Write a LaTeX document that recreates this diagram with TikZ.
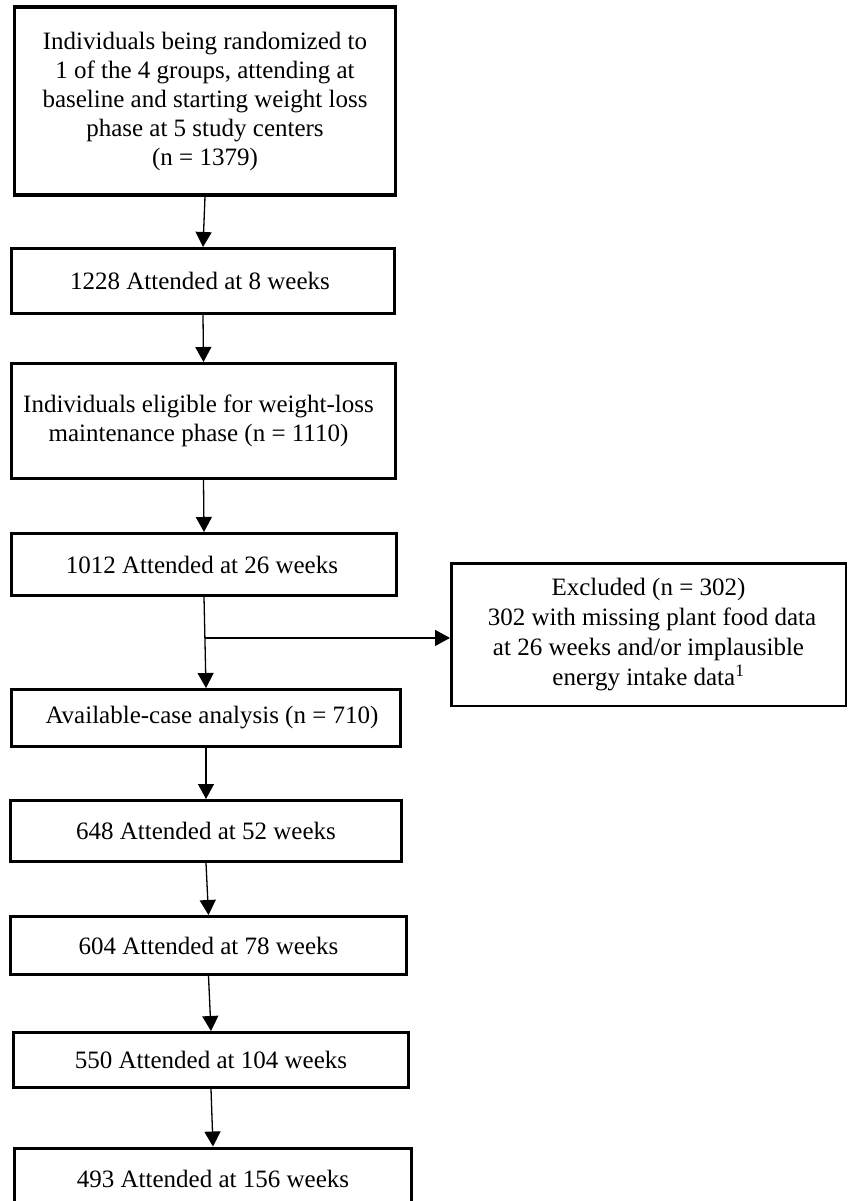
\documentclass[tikz,border=0pt]{standalone}
\usepackage{fontspec}
\setmainfont{Liberation Serif}
\usetikzlibrary{arrows.meta,calc}
\begin{document}
\begin{tikzpicture}[x=1pt,y=-1pt,
  box/.style={draw=black, line width=3pt, rectangle, inner sep=0pt, align=center,
    font=\fontsize{25}{29}\selectfont, text=black},
  exbox/.style={box, line width=2.5pt, font=\fontsize{25}{30}\selectfont},
  arr/.style={draw=black, line width=1.3pt, -{Triangle[length=15pt,width=16pt]}}]
\useasboundingbox (0,0) rectangle (848,1201);
\clip (0,0) rectangle (848,1201);
\fill[white] (0,0) rectangle (848,1201);

\node[box, line width=3.3pt, minimum width=381pt, minimum height=188pt] (b1) at (205,101)
  {Individuals being randomized to\\1 of the 4 groups, attending at\\baseline and starting weight loss\\phase at 5 study centers\\(n = 1379)};
\node[box, minimum width=383pt, minimum height=65pt] (b2) at (203,281)
  {\hspace*{-6pt}1228 Attended at 8 weeks};
\node[box, minimum width=384pt, minimum height=115pt] (b3) at (203.5,421)
  {Individuals eligible for weight-loss\hspace*{10pt}\\maintenance phase (n = 1110)\hspace*{10pt}};
\node[box, minimum width=385pt, minimum height=62pt] (b4) at (204,564.5)
  {\hspace*{-4pt}1012 Attended at 26 weeks};
\node[box, minimum width=389pt, minimum height=57pt] (b5) at (206,718)
  {\hspace*{12pt}Available-case analysis (n = 710)};
\node[exbox, minimum width=394.5pt, minimum height=142.5pt] (ex) at (648.5,634.5)
  {Excluded (n = 302)\\\hspace*{7pt}302 with missing plant food data\\at 26 weeks and/or implausible\\energy intake data\textsuperscript{1}};
\node[box, minimum width=391pt, minimum height=61pt] (b6) at (206,831)
  {648 Attended at 52 weeks};
\node[box, minimum width=396pt, minimum height=58pt] (b7) at (208.5,945.5)
  {604 Attended at 78 weeks};
\node[box, minimum width=395pt, minimum height=55pt] (b8) at (211,1060)
  {550 Attended at 104 weeks};
\node[box, minimum width=397pt, minimum height=62pt] (b9) at (213,1179)
  {493 Attended at 156 weeks};

\draw[arr] (b1.south) -- (b2.north);
\draw[arr] (b2.south) -- (b3.north);
\draw[arr] (b3.south) -- (b4.north);
\draw[arr] (b4.south) -- (b5.north);
\coordinate (br) at ($(b4.south)!0.45!(b5.north)$);
\draw[arr] (br) -- (br -| ex.west);
\draw[arr] (b5.south) -- (b6.north);
\draw[arr] (b6.south) -- (b7.north);
\draw[arr] (b7.south) -- (b8.north);
\draw[arr] (b8.south) -- (b9.north);
\end{tikzpicture}
\end{document}
